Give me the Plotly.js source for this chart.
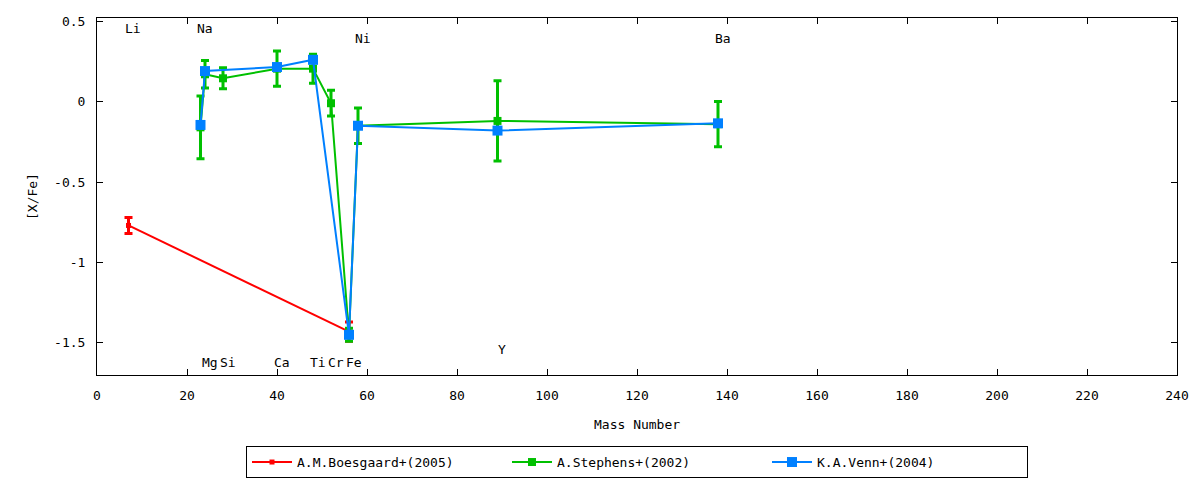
<!DOCTYPE html>
<html>
<head>
<meta charset="utf-8">
<script src="https://cdn.plot.ly/plotly-3.0.1.min.js"></script>
<style>html,body{margin:0;padding:0;background:#fff}#chart{width:1200px;height:480px}</style>
</head>
<body>
<div id="chart"></div>
<script>
// Boesgaard+(2005)
const boesMass = [7, 56];
const boesVal  = [-0.77, -1.43];
const boesErr  = [0.05, 0.06];

// Stephens+(2002)
const stepMass = [23, 24, 28, 40, 48, 52, 56, 58, 89, 138];
const stepVal  = [-0.16, 0.17, 0.145, 0.205, 0.205, -0.01, -1.45, -0.15, -0.12, -0.14];
const stepErr  = [0.195, 0.085, 0.065, 0.11, 0.09, 0.08, 0.04, 0.11, 0.25, 0.14];

// Venn+(2004)
const vennMass = [23, 24, 40, 48, 56, 58, 89, 138];
const vennVal  = [-0.145, 0.19, 0.215, 0.26, -1.45, -0.15, -0.18, -0.135];

// element labels
const elemNames = ["Li", "Na", "Mg", "Si", "Ca", "Ti", "Cr", "Fe", "Ni", "Y", "Ba"];
const elemMass  = [7, 23, 24, 28, 40, 48, 52, 56, 58, 89, 138];
const elemLabelY = [0.455, 0.455, -1.62, -1.62, -1.62, -1.62, -1.62, -1.62, 0.39, -1.54, 0.39];

// axis ticks
const xTicks = [0, 20, 40, 60, 80, 100, 120, 140, 160, 180, 200, 220, 240];
const yTicks = [-1.5, -1, -0.5, 0, 0.5];
const yTickText = ["-1.5", "-1", "-0.5", "0", "0.5"];

const FONT = "DejaVu Sans Mono";

const traces = [
  {
    name: "A.M.Boesgaard+(2005)", x: boesMass, y: boesVal, type: "scatter", mode: "lines+markers",
    line: {color: "#ff0000", width: 2},
    marker: {color: "#ff0000", symbol: "square", size: 5},
    error_y: {type: "data", array: boesErr, visible: true, color: "#ff0000", thickness: 3, width: 4}
  },
  {
    name: "A.Stephens+(2002)", x: stepMass, y: stepVal, type: "scatter", mode: "lines+markers",
    line: {color: "#00c000", width: 2},
    marker: {color: "#00c000", symbol: "square", size: 8},
    error_y: {type: "data", array: stepErr, visible: true, color: "#00c000", thickness: 3, width: 4}
  },
  {
    name: "K.A.Venn+(2004)", x: vennMass, y: vennVal, type: "scatter", mode: "lines+markers",
    line: {color: "#0080ff", width: 2},
    marker: {color: "#0080ff", symbol: "square", size: 10}
  }
];

const annotations = elemNames.map((n, i) => ({
  x: elemMass[i] + 1, y: elemLabelY[i], xref: "x", yref: "y",
  text: n, showarrow: false, xanchor: "center", yanchor: "middle",
  font: {family: FONT, size: 13, color: "#000"}
}));
annotations.push({
  text: "Mass Number", xref: "paper", yref: "paper", x: 0.5, y: -0.14,
  xanchor: "center", yanchor: "middle", showarrow: false,
  font: {family: FONT, size: 13, color: "#000"}
});
annotations.push({
  text: "[X/Fe]", xref: "paper", yref: "paper", x: -0.0597, y: 0.5, textangle: -90,
  xanchor: "center", yanchor: "middle", showarrow: false,
  font: {family: FONT, size: 13, color: "#000"}
});

const layout = {
  width: 1200, height: 480,
  margin: {l: 96.5, r: 22.5, t: 17.5, b: 105},
  paper_bgcolor: "#fff", plot_bgcolor: "#fff",
  font: {family: FONT, size: 13, color: "#000"},
  showlegend: true,
  xaxis: {
    range: [0, 240], tickvals: xTicks, ticktext: xTicks.map(String),
    ticks: "inside", ticklen: 6, tickwidth: 1, tickcolor: "#000",
    showline: true, linecolor: "#000", linewidth: 1, mirror: "ticks",
    showgrid: false, zeroline: false, ticklabelstandoff: 8,
    automargin: false
  },
  yaxis: {
    range: [-1.7, 0.52], tickvals: yTicks, ticktext: yTickText,
    ticks: "inside", ticklen: 6, tickwidth: 1, tickcolor: "#000",
    showline: true, linecolor: "#000", linewidth: 1, mirror: "ticks",
    showgrid: false, zeroline: false, ticklabelstandoff: 8,
    automargin: false
  },
  legend: {
    orientation: "h", x: 0.5, xanchor: "center", xref: "paper",
    y: 0.004, yanchor: "bottom", yref: "container",
    bordercolor: "#000", borderwidth: 1, bgcolor: "#fff",
    font: {family: FONT, size: 13},
    entrywidth: 205, entrywidthmode: "pixels", itemwidth: 40,
    traceorder: "normal"
  },
  annotations: annotations
};

Plotly.newPlot("chart", traces, layout, {displayModeBar: false, staticPlot: true});
</script>
</body>
</html>
